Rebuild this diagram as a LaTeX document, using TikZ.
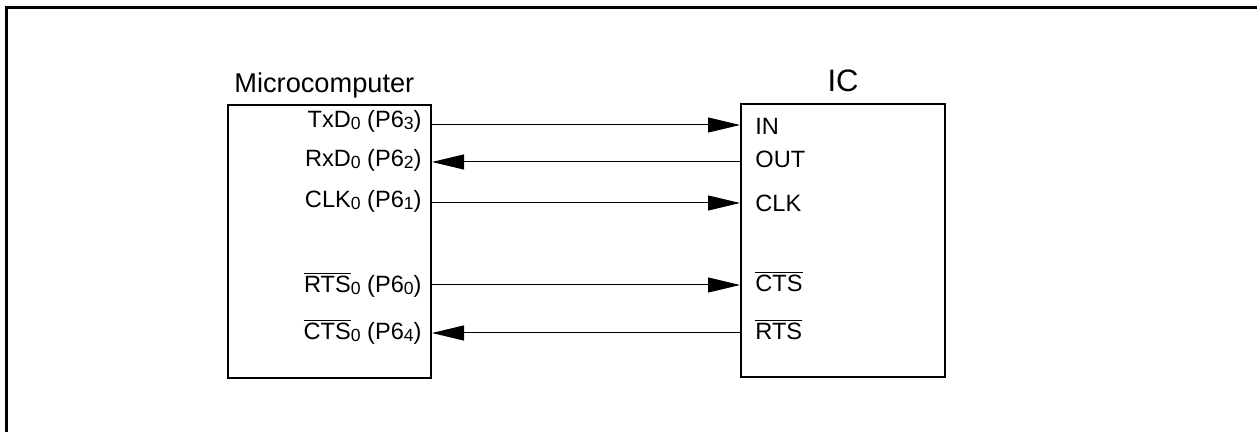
\documentclass[tikz,border=0pt]{standalone}
\usepackage{fontspec}
\setmainfont{Liberation Sans}
\usetikzlibrary{arrows.meta}
\newcommand\sbs[1]{\raisebox{-0.1ex}{\fontsize{8.8}{9}\selectfont #1}}
\newcommand\ovl[1]{$\overline{\mbox{#1}}$}
\tikzset{
  box/.style={draw, line width=1pt, rectangle, inner sep=0pt},
  sig/.style={line width=0.5pt, -{Triangle[length=16pt, width=7.5pt]}},
  lbl/.style={font=\fontsize{11.8}{13}\selectfont, inner sep=0pt},
  frameline/.style={line width=1.5pt}
}
\begin{document}
\begin{tikzpicture}[x=0.5pt, y=-0.5pt]
\useasboundingbox (0,0) rectangle (1257,432);
% frame (only top and left edges visible)
\draw[frameline] (6,432) -- (6,8) -- (1257,8);
% boxes
\node[box, minimum width=101.5pt, minimum height=136.5pt] (mc) at (329.5,241.5) {};
\node[box, minimum width=102pt, minimum height=136.5pt] (ic) at (843,240.5) {};
% titles
\node[anchor=base west, inner sep=0pt, font=\fontsize{13.6}{15}\selectfont] (mctitle) at (234,93) {Microcomputer};
\node[anchor=base, inner sep=0pt, font=\fontsize{15.5}{17}\selectfont] (ictitle) at (843,92) {IC};
% left labels
\node[lbl, anchor=base east] (ltx) at (422,128) {TxD\sbs{0} (P6\sbs{3})};
\node[lbl, anchor=base east] (lrx) at (422,167) {RxD\sbs{0} (P6\sbs{2})};
\node[lbl, anchor=base east] (lclk) at (422,208) {CLK\sbs{0} (P6\sbs{1})};
\node[lbl, anchor=base east] (lrts) at (422,293) {\ovl{RTS}\sbs{0} (P6\sbs{0})};
\node[lbl, anchor=base east] (lcts) at (422,340) {\ovl{CTS}\sbs{0} (P6\sbs{4})};
% right labels
\node[lbl, anchor=base west] (rin) at (755,135) {IN};
\node[lbl, anchor=base west] (rout) at (755,168) {OUT};
\node[lbl, anchor=base west] (rclk) at (755,212) {CLK};
\node[lbl, anchor=base west] (rcts) at (755,292) {\ovl{CTS}};
\node[lbl, anchor=base west] (rrts) at (755,340) {\ovl{RTS}};
% connectors
\draw[sig] (mc.east |- 0,125) -- (ic.west |- 0,125);
\draw[sig] (ic.west |- 0,162) -- (mc.east |- 0,162);
\draw[sig] (mc.east |- 0,203) -- (ic.west |- 0,203);
\draw[sig] (mc.east |- 0,285) -- (ic.west |- 0,285);
\draw[sig] (ic.west |- 0,333) -- (mc.east |- 0,333);
\end{tikzpicture}
\end{document}
